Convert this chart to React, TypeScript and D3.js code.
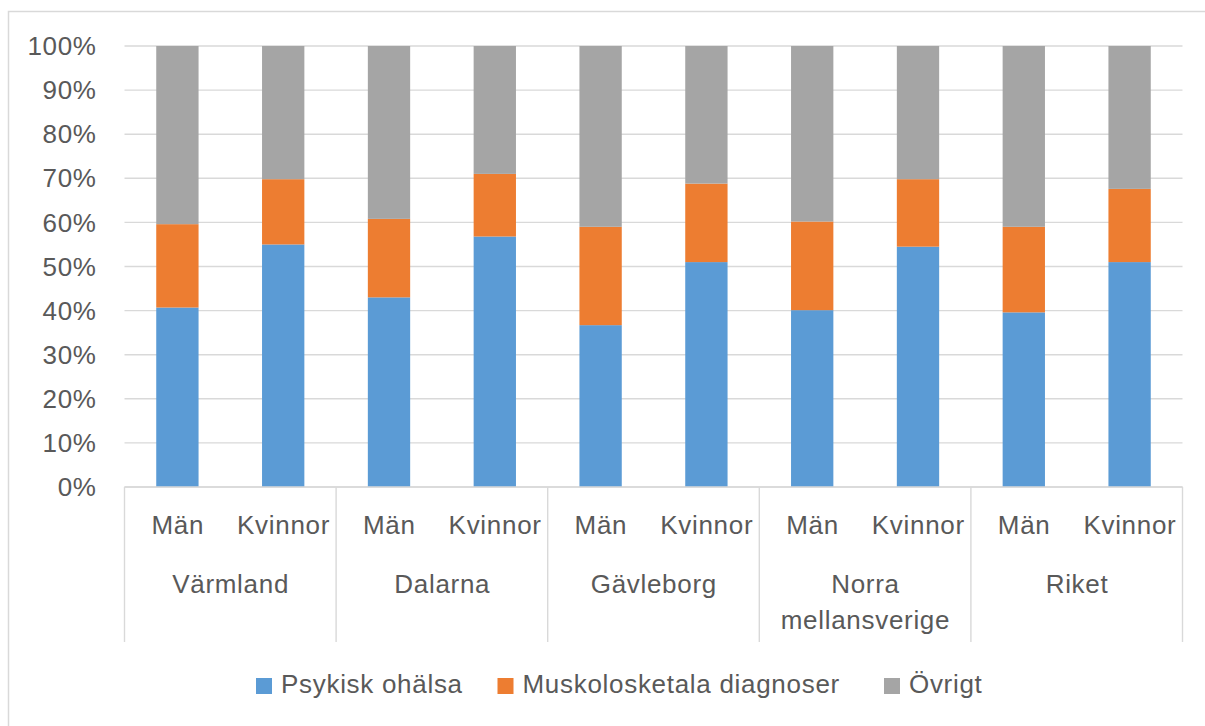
import React from "react";
import * as d3 from "d3";

const regions = ["Värmland", "Dalarna", "Gävleborg", "Norra mellansverige", "Riket"];
const genders = ["Män", "Kvinnor"];
const seriesNames = ["Psykisk ohälsa", "Muskolosketala diagnoser", "Övrigt"];
const seriesColors = ["#5B9BD5", "#ED7D31", "#A5A5A5"];
// values per bar, ordered region by region (Män, Kvinnor)
const psykisk = [40.7, 55.0, 43.0, 56.8, 36.7, 51.0, 40.1, 54.5, 39.6, 51.0];
const muskulo = [18.9, 14.8, 17.8, 14.2, 22.3, 17.8, 20.1, 15.3, 19.4, 16.6];
const ovrigt = [40.4, 30.2, 39.2, 29.0, 41.0, 31.2, 39.8, 30.2, 41.0, 32.4];
const yTicks = [0, 10, 20, 30, 40, 50, 60, 70, 80, 90, 100];

const W = 1205;
const H = 726;
const plot = { left: 124.5, right: 1182.5, top: 46, bottom: 487 };
const font = "'Liberation Sans', Arial, sans-serif";
const textColor = "#595959";
const gridColor = "#d9d9d9";
const ls = 0.7;

export default function App() {
  const rows = regions.flatMap((r, ri) =>
    genders.map((g, gi) => {
      const i = ri * 2 + gi;
      return {
        key: `${r}|${g}`,
        region: r,
        gender: g,
        [seriesNames[0]]: psykisk[i],
        [seriesNames[1]]: muskulo[i],
        [seriesNames[2]]: ovrigt[i],
      } as any;
    })
  );
  const stack = d3.stack<any>().keys(seriesNames).offset(d3.stackOffsetExpand);
  const stacked = stack(rows);

  const x = d3
    .scaleBand<string>()
    .domain(rows.map((d) => d.key))
    .range([plot.left, plot.right])
    .paddingInner(0.6)
    .paddingOuter(0.3);
  const xGroup = d3.scaleBand<string>().domain(regions).range([plot.left, plot.right]);
  const y = d3.scaleLinear().domain([0, 1]).range([plot.bottom, plot.top]);

  const legendX = [256, 497.5, 884];

  return (
    <svg
      width={W}
      height={H}
      style={{ position: "absolute", left: 0, top: 0, background: "#fff" }}
      fontFamily={font}
      letterSpacing={ls}
    >
      <rect x={0} y={0} width={W} height={H} fill="#fff" />
      {/* chart border */}
      <path d={`M8.5,${H + 2} V11.5 H${W + 2}`} fill="none" stroke={gridColor} strokeWidth={1.5} />
      {/* gridlines */}
      {yTicks.map((t) => (
        <g key={t}>
          <line
            x1={plot.left}
            x2={plot.right}
            y1={y(t / 100)}
            y2={y(t / 100)}
            stroke={gridColor}
            strokeWidth={1.4}
          />
          <text
            x={96 + ls}
            y={y(t / 100)}
            dy="0.35em"
            textAnchor="end"
            fontSize={26}
            fill={textColor}
          >
            {t}%
          </text>
        </g>
      ))}
      {/* bars */}
      {stacked.map((s, si) => (
        <g key={s.key} fill={seriesColors[si]}>
          {s.map((d: any) => (
            <rect
              key={d.data.key}
              x={x(d.data.key)}
              width={x.bandwidth()}
              y={y(d[1])}
              height={y(d[0]) - y(d[1])}
            />
          ))}
        </g>
      ))}
      {/* category axis */}
      <line x1={plot.left} x2={plot.right} y1={plot.bottom} y2={plot.bottom} stroke={gridColor} strokeWidth={1.4} />
      {[...regions.map((r) => xGroup(r) as number), plot.right].map((xv, i) => (
        <line key={i} x1={xv} x2={xv} y1={plot.bottom} y2={642} stroke={gridColor} strokeWidth={1.4} />
      ))}
      {rows.map((d) => (
        <text
          key={d.key}
          x={(x(d.key) as number) + x.bandwidth() / 2 + ls / 2}
          y={534}
          textAnchor="middle"
          fontSize={26}
          fill={textColor}
        >
          {d.gender}
        </text>
      ))}
      {regions.map((r) => {
        const cx = (xGroup(r) as number) + xGroup.bandwidth() / 2 + ls / 2;
        const parts = r === "Norra mellansverige" ? ["Norra", "mellansverige"] : [r];
        return (
          <text key={r} x={cx} y={593} textAnchor="middle" fontSize={26} fill={textColor}>
            {parts.map((p, i) => (
              <tspan key={i} x={cx} dy={i === 0 ? 0 : 36}>
                {p}
              </tspan>
            ))}
          </text>
        );
      })}
      {/* legend */}
      {seriesNames.map((n, i) => (
        <g key={n}>
          <rect x={legendX[i]} y={678} width={16} height={16} fill={seriesColors[i]} />
          <text x={legendX[i] + 25} y={693} fontSize={26} fill={textColor}>
            {n}
          </text>
        </g>
      ))}
    </svg>
  );
}
